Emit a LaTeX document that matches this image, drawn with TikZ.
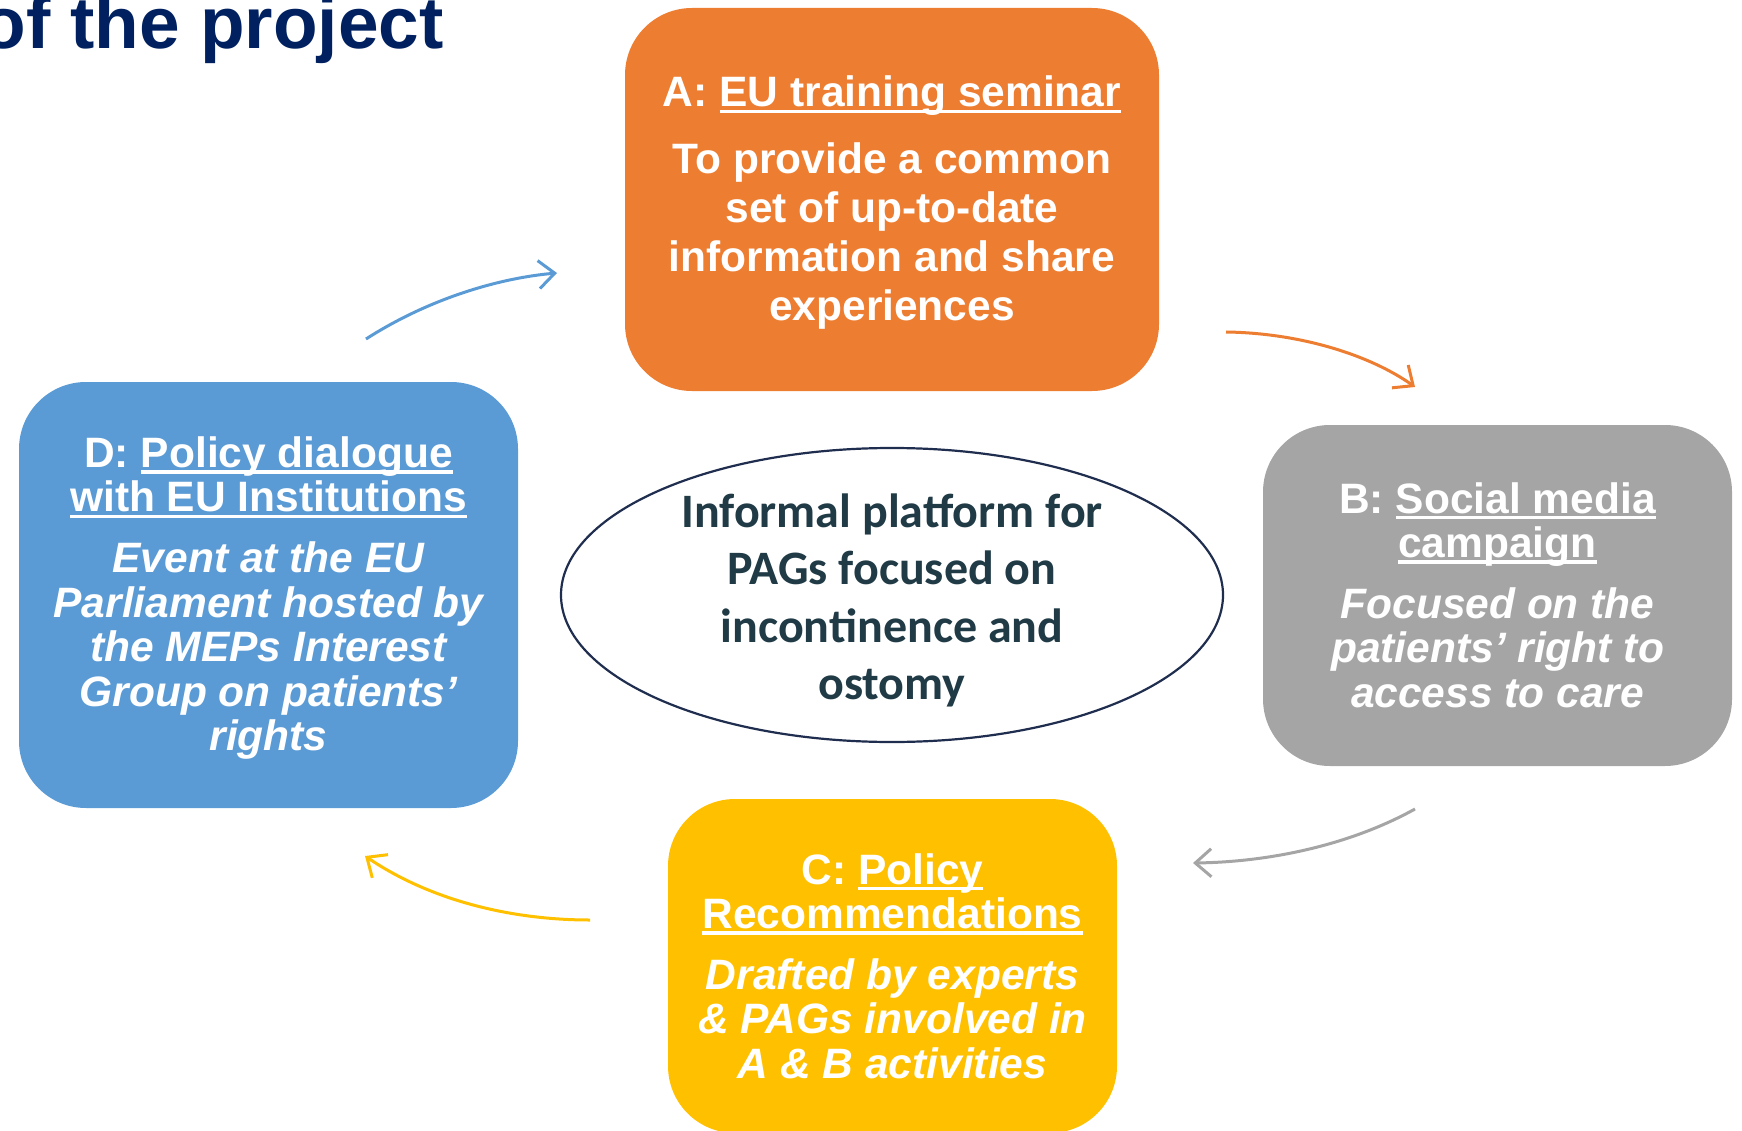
\documentclass[tikz,border=0pt]{standalone}
\usepackage{fontspec}
\setmainfont{Liberation Sans}
\newfontfamily\calib{Carlito}
\usetikzlibrary{arrows.meta,shapes.geometric}
\definecolor{aorange}{HTML}{ED7D31}
\definecolor{bgray}{HTML}{A5A5A5}
\definecolor{cyellow}{HTML}{FFC000}
\definecolor{dblue}{HTML}{5B9BD5}
\definecolor{navy}{HTML}{002060}
\definecolor{ellline}{HTML}{1F2D4E}
\definecolor{elltext}{HTML}{203A46}
\newcommand\myul[1]{\leavevmode{\setbox0\hbox{#1}\rlap{\rule[-0.142em]{\wd0}{0.073em}}\box0}}
\newcommand\bi{\itshape}
\tikzset{
  boxshape/.style={rectangle, rounded corners=67pt, inner sep=0pt},
  boxtext/.style={inner sep=0pt, align=center, text=white,
    font=\bfseries\fontsize{42.5}{44.4}\selectfont},
  flowarrow/.style={line width=3pt, -{Straight Barb[length=16pt,width=28pt]}},
}
\begin{document}
\begin{tikzpicture}[x=1pt,y=-1pt]
\useasboundingbox (0,0) rectangle (1742,1131);
\clip (0,0) rectangle (1742,1131);

\node[anchor=base east, inner sep=0pt, text=navy, font=\bfseries\fontsize{73}{76}\selectfont] (title) at (444,49) {of the project};

\node[boxshape, fill=aorange, minimum width=534pt, minimum height=383pt] (A) at (892,199.5) {};
\node[boxtext, font=\bfseries\fontsize{42.5}{49}\selectfont] (At) at (892,203)
  {A: \myul{EU training seminar}\\[18pt]
   To provide a common\\set of up-to-date\\information and share\\experiences};

\node[boxshape, fill=bgray, minimum width=469pt, minimum height=341pt] (B) at (1497.5,595.5) {};
\node[boxtext] (Bt) at (1497.5,595)
  {B: \myul{Social media}\\\myul{campaign}\\[16.6pt]
   \bi Focused on the\\\bi patients’ right to\\\bi access to care};

\node[boxshape, fill=cyellow, minimum width=449pt, minimum height=334pt] (C) at (892.5,966) {};
\node[boxtext] (Ct) at (892.5,966)
  {C: \myul{Policy}\\\myul{Recommendations}\\[16.6pt]
   \bi Drafted by experts\\\bi \& PAGs involved in\\\bi A \& B activities};

\node[boxshape, fill=dblue, minimum width=499pt, minimum height=426pt] (D) at (268.5,595) {};
\node[boxtext] (Dt) at (268.5,598)
  {D: \myul{Policy dialogue}\\\myul{with EU Institutions}\\[16.6pt]
   \bi Event at the EU\\\bi Parliament hosted by\\\bi the MEPs Interest\\\bi Group on patients’\\\bi rights};

\node[ellipse, draw=ellline, line width=2.2pt, fill=white, minimum width=662pt, minimum height=294pt,
  inner sep=0pt] (E) at (892,595) {};
\node[inner sep=0pt, align=center, text=elltext, font=\calib\bfseries\fontsize{48}{57.5}\selectfont] (Et) at (892,600.5)
  {Informal platform for\\PAGs focused on\\incontinence and\\ostomy};

\coordinate (b1) at (366,339); \coordinate (b2) at (557,273);
\draw[flowarrow, dblue] (b1) .. controls (430,298) and (500,278) .. (b2);
\coordinate (o1) at (1226,332); \coordinate (o2) at (1415,387);
\draw[flowarrow, aorange] (o1) .. controls (1300,333) and (1370,355) .. (o2);
\coordinate (g1) at (1415,809); \coordinate (g2) at (1193,863);
\draw[flowarrow, bgray] (g1) .. controls (1350,845) and (1270,862) .. (g2);
\coordinate (y1) at (590,920); \coordinate (y2) at (365,856);
\draw[flowarrow, cyellow] (y1) .. controls (510,920) and (430,900) .. (y2);
\end{tikzpicture}
\end{document}
